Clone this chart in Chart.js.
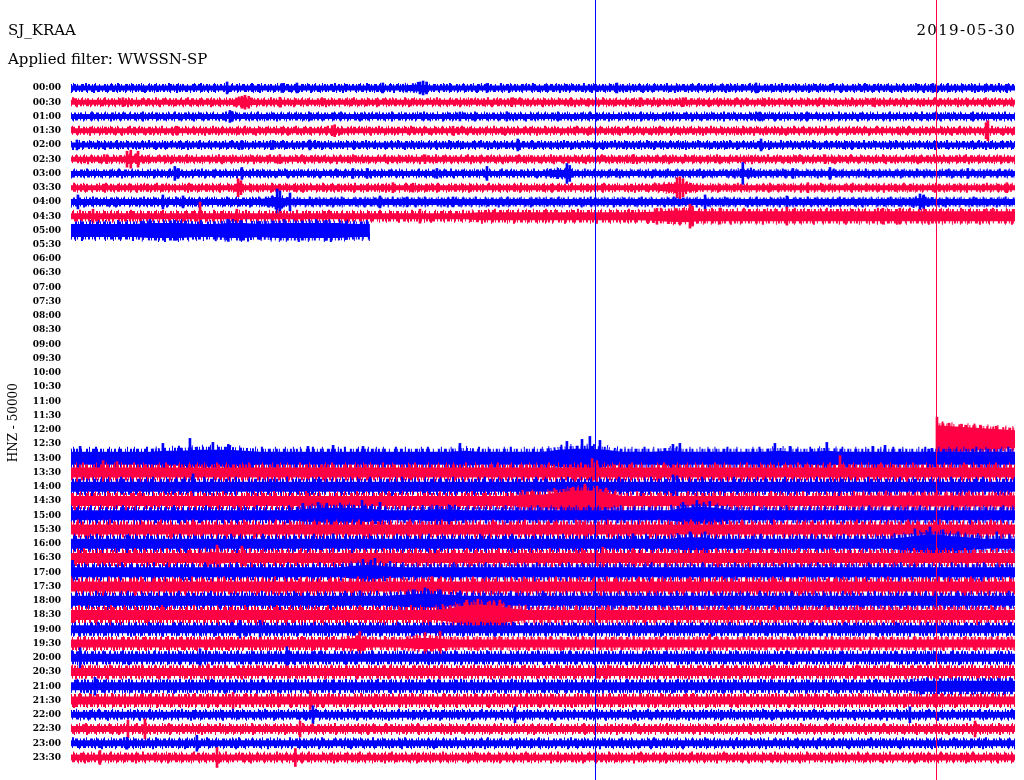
<!DOCTYPE html>
<html>
<head>
<meta charset="utf-8">
<script src="https://cdn.jsdelivr.net/npm/chart.js@4/dist/chart.umd.min.js"></script>
<style>
html,body{margin:0;padding:0;background:#ffffff;}
canvas{display:block;}
</style>
</head>
<body>
<canvas id="heli" width="1024" height="780"></canvas>
<script>
// ---------- data ----------
const stationName = 'SJ_KRAA';
const dayLabel = '2019-05-30';
const filterLabel = 'Applied filter: WWSSN-SP';
const channelLabel = 'HNZ - 50000';

const rowLabels = ['00:00','00:30','01:00','01:30','02:00','02:30','03:00','03:30','04:00','04:30',
  '05:00','05:30','06:00','06:30','07:00','07:30','08:00','08:30','09:00','09:30',
  '10:00','10:30','11:00','11:30','12:00','12:30','13:00','13:30','14:00','14:30',
  '15:00','15:30','16:00','16:30','17:00','17:30','18:00','18:30','19:00','19:30',
  '20:00','20:30','21:00','21:30','22:00','22:30','23:00','23:30'];

// minute within each 30-minute line
const sampleMinutes = [0,0.5,1,1.5,2,2.5,3,3.5,4,4.5,5,5.5,6,6.5,7,7.5,8,8.5,9,9.5,
  10,10.5,11,11.5,12,12.5,13,13.5,14,14.5,15,15.5,16,16.5,17,17.5,18,18.5,19,19.5,
  20,20.5,21,21.5,22,22.5,23,23.5,24,24.5,25,25.5,26,26.5,27,27.5,28,28.5,29,29.5,30];

// minutes of the two vertical markers
const markerMinutes = [16.65, 27.49];

// first sample index of each line and baseline offset (amplitude units)
const traceFirstSample = [0,0,0,0,0,0,0,0,0,0, 0,0,0,0,0,0,0,0,0,0, 0,0,0,0,0,55,0,0,0,0,
  0,0,0,0,0,0,0,0,0,0, 0,0,0,0,0,0,0,0];
const traceOffset = [0,0,0,0,0,0,0,0,0,0, 0,0,0,0,0,0,0,0,0,0, 0,0,0,0,0,10,0,0,0,0,
  0,0,0,0,0,0,0,0,0,0, 0,0,0,0,0,0,0,0];

// core half-amplitude of each line, one value per half minute (null = no data)
const traceEnvelope = [
  [5,5,5,5,5,5,5,5,5,5, 5,5,5,5,5,5,5,5,5,5, 5,5,7,5,5,5,5,5,5,5, 5,5,5,5,5,5,5,5,5,5, 5,5,5,5,5,5,5,5,5,5, 5,5,5,5,5,5,5,5,5,5, 5],
  [5,5,5,5,5,5,5,5,5,5, 5,7,5,5,5,5,5,5,5,5, 5,5,5,5,5,5,5,5,5,5, 5,5,5,5,5,5,5,5,5,5, 5,5,5,5,5,5,5,5,5,5, 5,5,5,5,5,5,5,5,5,5, 5],
  [5,5,5,5,5,5,5,5,5,5, 5,5,5,5,5,5,5,5,5,5, 5,5,5,5,5,5,5,5,5,5, 5,5,5,5,5,5,5,5,5,5, 5,5,5,5,5,5,5,5,5,5, 5,5,5,5,5,5,5,5,5,5, 5],
  [5,5,5,5,5,5,5,5,5,5, 5,5,5,5,5,5,5,5,5,5, 5,5,5,5,5,5,5,5,5,5, 5,5,5,5,5,5,5,5,5,5, 5,5,5,5,5,5,5,5,5,5, 5,5,5,5,5,5,5,5,5,5, 5],
  [5,5,5,5,5,5,5,5,5,5, 5,5,5,5,5,5,5,5,5,5, 5,5,5,5,5,5,5,5,5,5, 5,5,5,5,5,5,5,5,5,5, 5,5,5,5,5,5,5,5,5,5, 5,5,5,5,5,5,5,5,5,5, 5],
  [5,5,5,5,7,5,5,5,5,5, 5,5,5,5,5,5,5,5,5,5, 5,5,5,5,5,5,5,5,5,5, 5,5,5,5,5,5,5,5,5,5, 5,5,5,5,5,5,5,5,5,5, 5,5,5,5,5,5,5,5,5,5, 5],
  [5,5,5,5,5,5,5,5,5,5, 5,5,5,5,5,5,5,5,5,5, 5,5,5,5,5,5,5,5,5,5, 5,8,5,5,5,5,5,5,5,5, 5,5,5,7,5,5,5,5,5,5, 5,5,5,5,5,5,5,5,5,5, 5],
  [5,5,5,5,5,5,5,5,5,5, 5,5,5,5,5,5,5,5,5,5, 5,5,5,5,5,5,5,5,5,5, 5,5,5,5,5,5,5,5,8,8, 5,5,5,5,5,5,5,5,5,5, 5,5,5,5,5,5,5,5,5,5, 5],
  [6,6,6,6,6,6,6,6,6,6, 6,6,6,10,6,6,6,6,6,6, 6,6,6,6,6,6,6,6,6,6, 6,6,6,6,6,6,6,6,6,6, 6,6,6,6,6,6,6,6,6,6, 6,6,6,6,8,6,6,6,6,6, 6],
  [6,6,6,6,6,6,6,6,6,6, 6,6,6,6,6,6,6,6,6,6, 6,6,6,6,6,6,8,8,8,8, 8,8,8,8,8,8,8,9,11,12, 10,10,10,10,10,10,10,10,10,10, 10,10,10,10,10,10,10,10,10,10, 10],
  [13,13,13,13,13,15,15,15,13,13, 15,15,13,15,15,15,15,15,13,13],
  null, null, null, null, null, null, null, null, null, null, null, null, null, null,
  [28,26,24,22,20,18],
  [13,13,13,13,13,13,15,15,17,17, 17,15,13,13,13,13,13,13,13,13, 13,13,13,13,13,15,13,13,13,13, 13,17,19,19,17,13,13,13,15,13, 13,13,13,13,13,15,13,13,15,13, 13,13,13,13,13,13,13,13,13,13, 13],
  [10,10,10,10,10,10,10,10,10,10, 10,10,10,10,10,10,10,10,10,10, 10,10,10,10,10,10,10,10,10,10, 10,10,10,10,10,10,10,10,10,10, 10,10,10,10,10,10,10,10,10,10, 10,10,10,10,10,10,10,10,10,10, 10],
  [10,10,10,10,10,10,10,10,10,10, 10,10,10,10,10,10,10,10,10,10, 10,10,10,10,10,10,10,10,10,10, 10,10,10,10,10,10,10,10,10,10, 10,10,10,10,10,10,10,10,10,10, 10,10,10,10,10,10,10,10,10,10, 10],
  [10,10,10,10,10,10,10,10,10,10, 10,10,10,10,10,10,10,10,10,10, 10,10,10,10,10,10,10,10,10,13, 13,17,21,21,17,10,10,10,10,10, 10,10,10,10,10,10,10,10,10,10, 11,11,11,11,11,11,11,11,11,11, 11],
  [10,10,10,10,10,10,10,10,10,10, 10,10,10,10,10,13,15,15,15,13, 10,10,10,12,12,10,10,10,10,10, 10,10,10,10,10,10,10,10,10,15, 17,15,10,10,10,10,10,10,10,10, 10,10,10,10,10,10,10,10,10,10, 10],
  [10,10,10,10,10,10,10,10,10,10, 10,10,10,10,10,10,10,10,10,10, 10,10,10,10,10,10,10,10,10,10, 10,10,10,10,10,10,10,10,10,10, 10,10,10,10,10,10,10,10,10,10, 10,10,10,10,10,10,10,10,10,10, 10],
  [10,10,10,10,10,10,10,10,10,10, 10,10,10,10,10,10,10,10,10,10, 10,10,10,10,10,10,10,10,10,10, 10,10,10,10,10,10,10,10,10,13, 13,10,10,10,10,10,10,10,10,10, 10,10,10,13,17,19,15,13,10,10, 10],
  [10,10,10,10,10,10,10,10,10,12, 10,10,10,10,10,10,10,10,10,10, 10,10,10,10,10,10,10,10,10,10, 10,10,10,10,10,10,10,10,10,10, 10,10,10,10,10,10,10,10,10,10, 10,10,10,10,10,10,10,10,10,10, 10],
  [10,10,10,10,10,10,10,10,10,10, 10,10,10,10,10,10,10,10,13,15, 12,10,10,10,10,10,10,10,10,10, 10,10,10,10,10,10,10,10,10,10, 10,10,10,10,10,10,10,10,10,10, 10,10,10,10,10,10,10,10,10,10, 10],
  [10,10,10,10,10,10,10,10,10,10, 10,10,10,10,10,10,10,10,10,10, 10,10,10,10,10,10,10,10,10,10, 10,10,10,10,10,10,10,10,10,10, 10,10,10,10,10,10,10,10,10,10, 10,10,10,10,10,10,10,10,10,10, 10],
  [10,10,10,10,10,10,10,10,10,10, 10,10,10,10,10,10,10,10,10,10, 10,12,14,14,12,10,10,10,10,10, 10,10,10,10,10,10,10,10,10,10, 10,10,10,10,10,10,10,10,10,10, 10,10,10,10,10,10,10,10,10,10, 10],
  [10,10,10,10,10,10,10,10,10,10, 10,10,10,10,10,10,10,10,10,10, 10,10,10,10,13,19,21,19,13,10, 10,10,10,10,10,10,10,10,10,10, 10,10,10,10,10,10,10,10,10,10, 10,10,10,10,10,10,10,10,10,10, 10],
  [8,8,8,8,8,8,8,8,8,8, 8,8,8,8,8,8,8,8,8,8, 8,8,8,8,8,8,8,8,8,8, 8,8,8,8,8,8,8,8,8,8, 8,8,8,8,8,8,8,8,8,8, 8,8,8,8,8,8,8,8,8,8, 8],
  [8,8,8,8,8,8,8,8,8,8, 8,8,8,8,8,8,8,8,11,8, 8,8,11,11,8,8,8,8,8,8, 8,8,8,8,8,8,8,8,8,8, 8,8,8,8,8,8,8,8,8,8, 8,8,8,8,8,8,8,8,8,8, 8],
  [8,8,8,8,8,8,8,8,8,8, 8,8,8,8,8,8,8,8,8,8, 8,8,8,8,8,8,8,8,8,8, 8,8,8,8,8,8,8,8,8,8, 8,8,8,8,8,8,8,8,8,8, 8,8,8,8,8,8,8,8,8,8, 8],
  [8,8,8,8,8,8,8,8,8,8, 8,8,8,8,8,8,8,8,8,8, 8,8,8,8,8,8,8,8,8,8, 8,8,8,8,8,8,8,8,8,8, 8,8,8,8,8,8,8,8,8,8, 8,8,8,8,8,8,8,8,8,8, 8],
  [8,8,8,8,8,8,8,8,8,8, 8,8,8,8,8,8,8,8,8,8, 8,8,8,8,8,8,8,8,8,8, 8,8,8,8,8,8,8,8,8,8, 8,8,8,8,8,8,8,8,8,8, 8,8,8,8,11,11,11,11,11,11, 11],
  [8,8,8,8,8,8,8,8,8,8, 8,8,8,8,8,8,8,8,8,8, 8,8,8,8,8,8,8,8,8,8, 8,8,8,8,8,8,8,8,8,8, 8,8,8,8,8,8,8,8,8,8, 8,8,8,8,8,8,8,8,8,8, 8],
  [6,6,6,6,6,6,6,6,6,6, 6,6,6,6,6,6,6,6,6,6, 6,6,6,6,6,6,6,6,6,6, 6,6,6,6,6,6,6,6,6,6, 6,6,6,6,6,6,6,6,6,6, 6,6,6,6,6,6,6,6,6,6, 6],
  [6,6,6,6,6,6,6,6,6,6, 6,6,6,6,6,6,6,6,6,6, 6,6,6,6,6,6,6,6,6,6, 6,6,6,6,6,6,6,6,6,6, 6,6,6,6,6,6,6,6,6,6, 6,6,6,6,6,6,6,6,6,6, 6],
  [6,6,6,6,6,6,6,6,6,6, 6,6,6,6,6,6,6,6,6,6, 6,6,6,6,6,6,6,6,6,6, 6,6,6,6,6,6,6,6,6,6, 6,6,6,6,6,6,6,6,6,6, 6,6,6,6,6,6,6,6,6,6, 6],
  [6,6,6,6,6,6,6,6,6,6, 6,6,6,6,6,6,6,6,6,6, 6,6,6,6,6,6,6,6,6,6, 6,6,6,6,6,6,6,6,6,6, 6,6,6,6,6,6,6,6,6,6, 6,6,6,6,6,6,6,6,6,6, 6]
];

// individual spikes of each line: [minute, half-amplitude]
const traceSpikes = [
  [[4.96,12],[6.70,9],[7.18,10],[9.91,10],[11.09,12],[11.19,14],[11.30,12],[13.22,9],[17.35,10],[21.77,10],[27.39,9]],
  [[1.65,9],[5.43,12],[5.53,14],[5.65,12],[6.64,10],[14.01,9],[18.08,9],[19.45,9],[25.48,8]],
  [[5.05,12],[5.12,10],[12.36,9],[13.85,9],[21.89,9]],
  [[3.37,9],[8.30,10],[8.38,12],[12.14,9],[29.08,16],[29.14,20]],
  [[0.19,10],[5.43,9],[6.42,9],[7.59,10],[14.20,12],[21.93,12]],
  [[1.14,9],[1.78,16],[1.90,18],[2.13,16],[6.64,9],[11.25,9],[17.86,9],[23.96,9]],
  [[3.30,14],[3.40,10],[5.43,12],[8.96,10],[9.41,10],[11.63,10],[13.22,14],[15.76,20],[15.85,16],[21.35,22],[22.94,10],[24.12,12],[28.50,10]],
  [[5.31,18],[5.40,14],[10.23,10],[10.87,9],[19.26,20],[19.35,22],[19.45,18],[23.42,10],[29.74,10]],
  [[0.22,14],[2.92,14],[3.56,12],[6.55,26],[6.64,22],[6.96,18],[9.82,12],[10.68,10],[12.14,10],[20.15,14],[22.75,12],[26.98,16],[27.10,14]],
  [[0.70,14],[4.10,28],[5.27,14],[11.09,14],[18.62,16],[19.67,24],[19.75,20],[20.62,16],[22.75,18],[25.80,16],[26.34,16]],
  [[3.30,20],[5.00,22],[5.40,20],[6.00,18],[8.10,20]],
  [],[],[],[],[],[],[],[],[],[],[],[],[],[],
  [[27.52,44],[27.90,32],[28.30,30],[28.90,28],[29.40,26]],
  [[0.29,24],[2.92,30],[3.78,40],[4.51,32],[5.00,28],[7.53,24],[8.33,26],[9.28,24],[12.36,30],[15.76,34],[16.24,38],[16.49,44],[16.81,36],[19.13,28],[19.35,30],[22.37,30],[22.85,24],[24.02,32],[25.48,24],[25.87,26],[27.36,20]],
  [[1.02,24],[1.46,22],[16.56,28],[16.71,24],[24.44,34]],
  [[3.88,26],[19.13,24],[19.26,22]],
  [[14.65,20],[15.95,28],[16.33,34],[16.71,30]],
  [[7.37,24],[7.85,26],[8.13,24],[9.25,30],[9.82,26],[11.63,20],[12.04,20],[19.45,26],[19.89,30],[20.30,28]],
  [[16.17,18]],
  [[1.78,18],[8.33,20],[17.86,20],[19.67,24],[20.15,24],[26.82,30],[27.30,34],[27.71,28],[28.19,24],[29.42,24]],
  [[4.64,26],[5.43,24],[16.90,22]],
  [[0.05,24],[9.28,26],[9.66,28],[10.14,22]],
  [[11.47,20]],
  [[9.18,20],[10.87,22],[11.25,26],[11.73,22]],
  [[12.58,30],[12.93,32],[13.31,28],[13.63,30]],
  [[5.37,18],[6.01,18]],
  [[9.18,24],[11.25,22],[11.73,24],[20.30,18]],
  [[0.29,20],[4.10,18],[6.86,22]],
  [[4.36,16]],
  [[0.76,18]],
  [[5.15,16],[7.60,18]],
  [[7.69,18],[14.11,16],[26.66,16]],
  [[1.81,18],[2.35,20],[7.28,16],[28.73,16]],
  [[1.78,12],[4.00,16]],
  [[0.92,14],[4.64,20],[7.13,18]]
];

// ---------- styles ----------
const BLUE = '#0000ff';
const RED = '#ff0044';
const markerColors = [BLUE, RED];
const traceGain = 28.6; // amplitude units per line spacing
const hairDash = [1,2,2,1,1,3,3,1,1,2,2,2,1,1,2,3,1,4,2,1,1,2,3,2];
const longHairDash = [1,6,1,11,2,8,1,15,1,5,2,12,1,9,1,7];
function hairWidth(r) {
  if (r <= 8) return 3;
  if (r === 9 || r === 25) return 4.5;
  if (r === 10) return 5;
  if (r <= 37) return 6;
  if (r <= 43) return 5;
  return 3.5;
}
function longHairWidth(r) {
  if (r <= 8) return 5;
  if (r === 9) return 7;
  if (r === 10 || r === 25) return 8;
  if (r <= 37) return 10;
  if (r <= 43) return 7;
  return 6;
}

// ---------- build datasets ----------
const datasets = [];
traceEnvelope.forEach((env, r) => {
  const color = r % 2 ? RED : BLUE;
  const off = traceOffset[r];
  const order = 100 - r;
  if (env) {
    const first = traceFirstSample[r];
    const upper = [], lower = [];
    env.forEach((a, k) => {
      const x = sampleMinutes[first + k];
      upper.push({x: x, y: r - (a + off) / traceGain});
      lower.push({x: x, y: r + (a - off) / traceGain});
    });
    const common = {type: 'line', borderColor: color, backgroundColor: color,
      borderCapStyle: 'butt', pointRadius: 0, pointHoverRadius: 0, tension: 0,
      clip: false, order: order};
    datasets.push(Object.assign({label: rowLabels[r] + ' top', data: upper, fill: false,
      borderWidth: hairWidth(r), borderDash: hairDash, borderDashOffset: (r * 7) % 41}, common));
    datasets.push(Object.assign({label: rowLabels[r] + ' bottom', data: lower, fill: '-1',
      borderWidth: hairWidth(r), borderDash: hairDash, borderDashOffset: (r * 11 + 13) % 41}, common));
    datasets.push(Object.assign({label: rowLabels[r] + ' top hair', data: upper, fill: false,
      borderWidth: longHairWidth(r), borderDash: longHairDash, borderDashOffset: (r * 13 + 5) % 79}, common));
    datasets.push(Object.assign({label: rowLabels[r] + ' bottom hair', data: lower, fill: false,
      borderWidth: longHairWidth(r), borderDash: longHairDash, borderDashOffset: (r * 17 + 29) % 79}, common));
  }
  const spikes = traceSpikes[r];
  if (spikes && spikes.length) {
    datasets.push({
      type: 'bar', label: rowLabels[r] + ' spikes', order: order,
      data: spikes.map(([m, a]) => ({x: m, y: [r - (a + off) / traceGain, r + (a - off) / traceGain]})),
      backgroundColor: color, borderWidth: 0, barThickness: 2, grouped: false, clip: false
    });
  }
});

const extras = {
  id: 'helicorderExtras',
  afterDraw(chart) {
    const ctx = chart.ctx;
    const xs = chart.scales.x;
    ctx.save();
    ctx.fillStyle = '#000';
    ctx.font = '15px "DejaVu Serif"';
    ctx.textAlign = 'right';
    ctx.textBaseline = 'middle';
    try { ctx.letterSpacing = '1.3px'; } catch (e) {}
    ctx.fillText(dayLabel, xs.right + 1, 31.5);
    try { ctx.letterSpacing = '0px'; } catch (e) {}
    markerMinutes.forEach((m, i) => {
      const px = Math.round(xs.getPixelForValue(m));
      ctx.fillStyle = markerColors[i];
      ctx.fillRect(px, 0, 1, chart.height);
    });
    ctx.restore();
  }
};

new Chart(document.getElementById('heli'), {
  type: 'line',
  data: {datasets: datasets},
  options: {
    responsive: false,
    animation: false,
    devicePixelRatio: 1,
    events: [],
    layout: {padding: {left: 8, right: 9, top: 0, bottom: 12.85}},
    plugins: {
      legend: {display: false},
      tooltip: {enabled: false},
      title: {display: true, text: stationName, align: 'start', color: '#000',
        font: {family: 'DejaVu Serif', size: 15, weight: 'normal', lineHeight: 1.2},
        padding: {top: 22.5, bottom: 0}},
      subtitle: {display: true, text: filterLabel, align: 'start', color: '#000',
        font: {family: 'DejaVu Serif', size: 15, weight: 'normal', lineHeight: 1.2},
        padding: {top: 10.5, bottom: 11.85}}
    },
    scales: {
      x: {type: 'linear', min: 0, max: 30, display: false, offset: false},
      y: {
        type: 'linear', reverse: true, min: -0.5, max: 47.5,
        grid: {display: false, drawTicks: false},
        border: {display: false},
        afterFit(scale) { scale.width = 63; },
        afterBuildTicks(scale) { scale.ticks = rowLabels.map((_, i) => ({value: i})); },
        ticks: {
          padding: 10, color: '#000', autoSkip: false,
          font: {family: 'DejaVu Serif', size: 9, weight: 'bold'},
          callback: (v) => rowLabels[v]
        },
        title: {display: true, text: channelLabel, color: '#000', padding: {top: 0, bottom: 0},
          font: {family: 'DejaVu Serif', size: 12, weight: 'normal', lineHeight: 1.0}}
      }
    }
  },
  plugins: [extras]
});
</script>
</body>
</html>
